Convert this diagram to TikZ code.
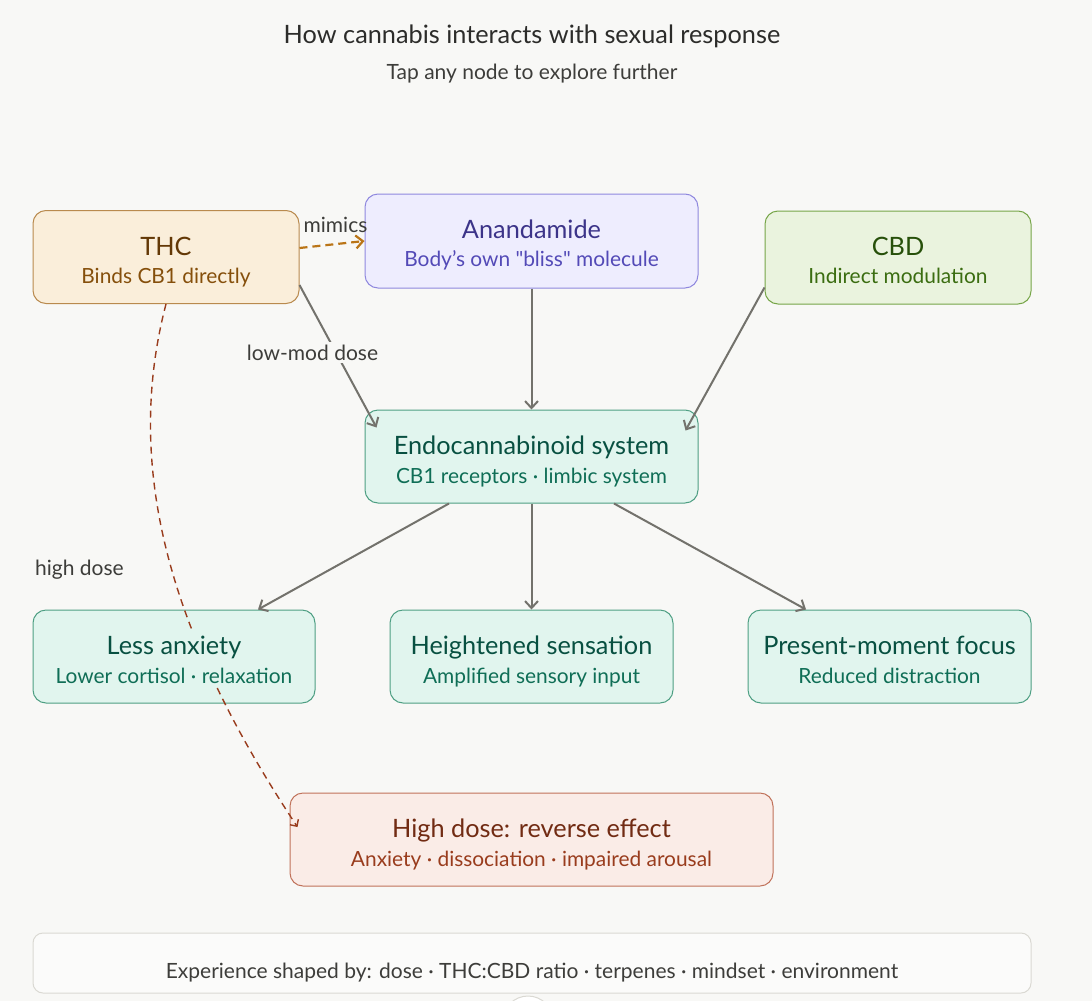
\documentclass[tikz,border=0pt]{standalone}
\usepackage{fontspec}
\setmainfont{Lato}
\usepackage{xcolor}
\definecolor{paper}{HTML}{F8F8F6}
\definecolor{ink}{HTML}{2C2C2A}
\definecolor{inkSoft}{HTML}{3D3D3A}
\definecolor{flowGray}{HTML}{73726C}
\definecolor{footLine}{HTML}{DAD9D3}
\definecolor{ambFill}{HTML}{FAEEDA}
\definecolor{ambLine}{HTML}{B98A4E}
\definecolor{ambTitle}{HTML}{633806}
\definecolor{ambSub}{HTML}{854F0B}
\definecolor{ambDash}{HTML}{BA7517}
\definecolor{purFill}{HTML}{EEEDFE}
\definecolor{purLine}{HTML}{8F88DE}
\definecolor{purTitle}{HTML}{3C3489}
\definecolor{purSub}{HTML}{534AB7}
\definecolor{grnFill}{HTML}{EAF3DE}
\definecolor{grnLine}{HTML}{76A548}
\definecolor{grnTitle}{HTML}{27500A}
\definecolor{grnSub}{HTML}{3B6D11}
\definecolor{tealFill}{HTML}{E1F5EE}
\definecolor{tealLine}{HTML}{4E9F83}
\definecolor{tealTitle}{HTML}{085041}
\definecolor{tealSub}{HTML}{0F6E56}
\definecolor{corFill}{HTML}{FAECE7}
\definecolor{corLine}{HTML}{C0725A}
\definecolor{corTitle}{HTML}{712B13}
\definecolor{corSub}{HTML}{993C1D}
\usepackage{tikz}
\usetikzlibrary{arrows.meta}

\begin{document}
\begin{tikzpicture}[x=1pt, y=-1pt, >={Straight Barb[length=7pt,width=13pt]},
  box/.style={draw=#1Line, fill=#1Fill, line width=1pt, rounded corners=13pt,
    minimum height=93pt},
  ttl/.style={anchor=base, text=#1Title, fill=#1Fill, inner sep=4pt,
    font=\fontsize{25.3}{29}\selectfont},
  sub/.style={anchor=base, text=#1Sub, fill=#1Fill, inner sep=4pt,
    font=\fontsize{20.9}{25}\selectfont},
  flow/.style={->, draw=flowGray, line width=2pt},
  cue/.style={anchor=base, text=inkSoft, font=\fontsize{21}{25}\selectfont}]
  % page
  \fill[paper] (0,0) rectangle (1092,1001);
  \useasboundingbox (0,0) rectangle (1092,1001);
  \node[anchor=base, text=ink, font=\fontsize{25.3}{29}\selectfont] (head) at (532,43)
    {How cannabis interacts with sexual response};
  \node[anchor=base, text=inkSoft, font=\fontsize{21}{25}\selectfont] (tap) at (532,79)
    {Tap any node to explore further};

  % boxes
  \node[box=amb,  minimum width=266pt] (thc) at (166,257) {};
  \node[box=pur,  minimum width=333pt, minimum height=94pt] (ana) at (531.5,241) {};
  \node[box=grn,  minimum width=266pt] (cbd) at (898,257.5) {};
  \node[box=teal, minimum width=333pt] (ecs) at (531.5,456.5) {};
  \node[box=teal, minimum width=282pt] (anx) at (174,656.5) {};
  \node[box=teal, minimum width=283pt] (sens) at (531.5,656.5) {};
  \node[box=teal, minimum width=283pt] (foc) at (889.5,656.5) {};
  \node[box=cor,  minimum width=483pt] (hd) at (531.5,839.5) {};

  % arrows into and out of the system
  \draw[flow] (ana) -- (ecs);
  \draw[flow] ([yshift=-28pt]thc.east) -- ([xshift=12pt,yshift=-18pt]ecs.north west);
  \draw[flow] ([yshift=-30pt]cbd.west) -- ([xshift=-13pt,yshift=-21pt]ecs.north east);
  \draw[flow] ([xshift=-82.5pt]ecs.south) -- ([xshift=84pt]anx.north);
  \draw[flow] (ecs) -- (sens);
  \draw[flow] ([xshift=82.5pt]ecs.south) -- ([xshift=-83.5pt]foc.north);
  \draw[->, ambDash, line width=2.2pt, dash pattern=on 8pt off 5pt]
    ([yshift=9pt]thc.east) -- (ana.west);
  % high dose path
  \draw[->, corSub, line width=1.4pt, dash pattern=on 7pt off 5pt,
    >={Straight Barb[length=5pt,width=10pt]}]
    (thc.south) .. controls (120,480) and (180,650) .. ([xshift=8pt,yshift=12.5pt]hd.west);

  % labels on the arrows
  \node[cue] (mim) at (335.5,232) {mimics};
  \node[cue, fill=paper, inner sep=3pt] (low) at (312.5,360) {low-mod dose};
  \node[cue] (high) at (79.5,575) {high dose};

  % box texts
  \node[ttl=amb] (thcT) at (166,255) {THC};
  \node[sub=amb] (thcS) at (166,283) {Binds CB1 directly};
  \node[ttl=pur] (anaT) at (531.5,238.5) {Anandamide};
  \node[sub=pur] (anaS) at (531.5,266) {Body’s own \textquotedbl bliss\textquotedbl{} molecule};
  \node[ttl=grn] (cbdT) at (898,255) {CBD};
  \node[sub=grn] (cbdS) at (898,283.5) {Indirect modulation};
  \node[ttl=teal] (ecsT) at (531.5,454) {Endocannabinoid system};
  \node[sub=teal] (ecsS) at (531.5,483) {CB1 receptors · limbic system};
  \node[ttl=teal] (anxT) at (174,654) {Less anxiety};
  \node[sub=teal] (anxS) at (174,683) {Lower cortisol · relaxation};
  \node[ttl=teal] (sensT) at (531.5,654) {Heightened sensation};
  \node[sub=teal] (sensS) at (531.5,683) {Amplified sensory input};
  \node[ttl=teal] (focT) at (889.5,654) {Present-moment focus};
  \node[sub=teal] (focS) at (889.5,683) {Reduced distraction};
  \node[ttl=cor] (hdT) at (531.5,837) {High dose: reverse effect};
  \node[sub=cor] (hdS) at (531.5,866) {Anxiety · dissociation · impaired arousal};

  % footer
  \node[draw=footLine, fill=white!45!paper, line width=1pt, rounded corners=10pt,
    minimum width=998pt, minimum height=60pt] (foot) at (532,963) {};
  \node[anchor=base, text=inkSoft, font=\fontsize{21}{25}\selectfont] (footT) at (532,978)
    {Experience shaped by: dose · THC:CBD ratio · terpenes · mindset · environment};
  \draw[footLine, fill=white, line width=1pt] (528,1021) circle (25);
\end{tikzpicture}
\end{document}
